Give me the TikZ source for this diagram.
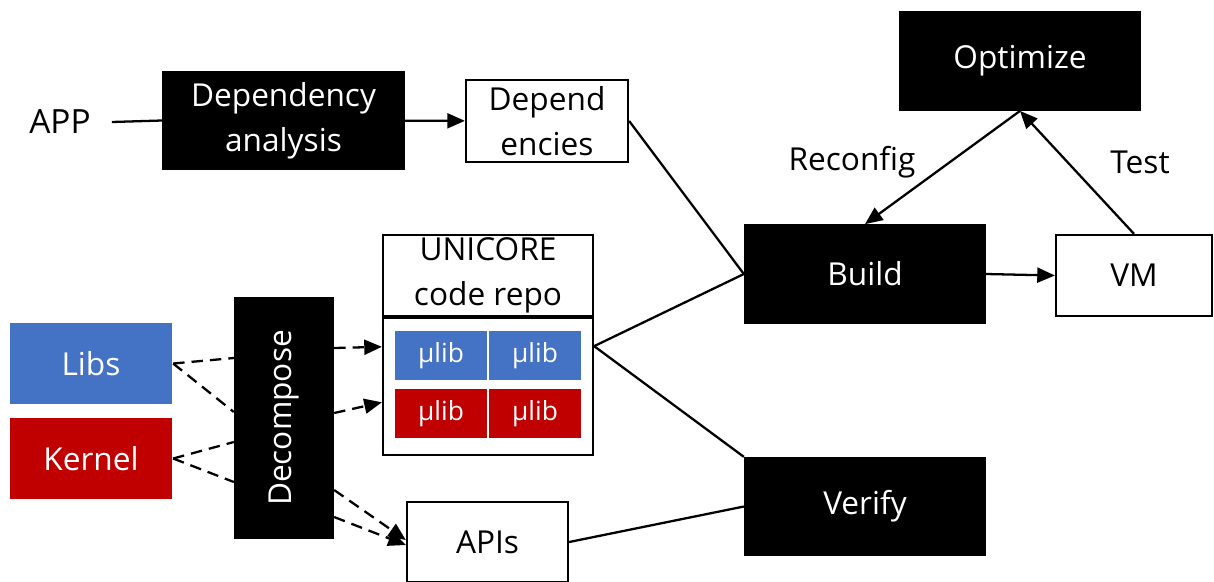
\documentclass[tikz,border=0pt]{standalone}
\usepackage{fontspec}
\setmainfont{Open Sans}
\usepackage{tikz}
\usetikzlibrary{positioning, arrows.meta}
\definecolor{libblue}{HTML}{4472C4}
\definecolor{kernred}{HTML}{C00000}

\begin{document}
\begin{tikzpicture}[
    % GLOBAL CFG
    font=\fontsize{18}{25.5}\selectfont,
    >={Triangle[length=10pt,width=8.5pt]},
    line width=1.3pt,
    % Styles
    stage/.style={% black processing boxes
        rectangle,
        draw,
        fill=black,
        text=white,
        align=center,
        minimum width=4.8cm,
        minimum height=1.95cm,
        },
    store/.style={% white boxes
        rectangle,
        draw,
        fill=white,
        align=center,
        inner sep=1pt,
        },
    src/.style={% coloured sources
        rectangle,
        text=white,
        minimum width=3.24cm,
        minimum height=1.62cm,
        },
    ulib/.style={% cells inside the repo
        rectangle,
        text=white,
        font=\fontsize{15}{18}\selectfont,
        minimum width=1.84cm,
        minimum height=0.98cm,
        },
    mylabel/.style={% edge labels
        inner sep=0pt
        },
    Dash/.style={% dashed connectors
        dash pattern=on 6.5pt off 4pt,
        },
    ]
    \useasboundingbox (0,0) rectangle (24.28,-11.62);

    % Draw the top row
    \node [inner sep=0.4cm, font=\fontsize{19}{24}\selectfont] (app) at (1.2,-2.44) {APP};
    \node [stage, minimum width=4.82cm, minimum height=1.94cm] (dep) at (5.67,-2.41) {Dependency\\analysis};
    \node [store, minimum width=3.24cm, minimum height=1.64cm] (deps) at (10.94,-2.42) {Depend\\encies};

    % Draw the build loop
    \node [stage] (opt) at (20.4,-1.22) {Optimize};
    \node [stage] (build) at (17.3,-5.48) {Build};
    \node [store, minimum width=3.12cm, minimum height=1.62cm] (vm) at (22.68,-5.51) {VM};
    \node [stage, minimum height=1.94cm] (verify) at (17.3,-10.13) {Verify};
    \node [mylabel] (reconfig) at (17.04,-3.24) {Reconfig};
    \node [mylabel] (test) at (22.8,-3.24) {Test};

    % Draw the sources and decomposition
    \node [src, fill=libblue] (libs) at (1.82,-7.27) {Libs};
    \node [src, fill=kernred] (kernel) at (1.82,-9.17) {Kernel};
    \node [stage, minimum width=1.96cm, minimum height=4.8cm] (decomp) at (5.68,-8.36) {\rotatebox{90}{Decompose}};

    % Draw the code repo named repo*
    \node [store, minimum width=4.2cm, minimum height=1.62cm] (repohead) at (9.76,-5.51) {UNICORE\\code repo};
    \node [store, minimum width=4.2cm, minimum height=2.74cm, anchor=north] (repobody) at (repohead.south) {};
    \node [ulib, fill=libblue] (ul1) at (8.82,-7.11) {µlib};
    \node [ulib, fill=libblue] (ul2) at (10.70,-7.11) {µlib};
    \node [ulib, fill=kernred] (ul3) at (8.82,-8.27) {µlib};
    \node [ulib, fill=kernred] (ul4) at (10.70,-8.27) {µlib};
    \node [store, minimum width=3.22cm, minimum height=1.6cm] (apis) at (9.75,-10.84) {APIs};
    \coordinate (fork) at ([yshift=-0.58cm]repobody.north east);

    % Start connecting all.
    \draw (app.east) -- (dep.west);
    \draw [->] (dep) -- (deps);
    \draw (deps.east) -- (build.west);
    \draw (fork) -- (build.west);
    \draw (fork) -- (verify.north west);
    \draw (apis.east) -- (verify.west);
    \draw [->] (build.east) -- (vm.west);
    \draw [->] (opt.south) -- (build.north);
    \draw [->] (vm.north) -- (opt.south);

    % Dashed inputs
    \draw [Dash] (libs.east) -- ([yshift=1.2cm]decomp.west);
    \draw [Dash] (libs.east) -- ([yshift=0.12cm]decomp.west);
    \draw [Dash] (kernel.east) -- ([yshift=-0.48cm]decomp.west);
    \draw [Dash] (kernel.east) -- ([yshift=-1.28cm]decomp.west);

    % Dashed outputs
    \draw [Dash, ->] ([yshift=1.4cm]decomp.east) -- ([yshift=0.8cm]repobody.west);
    \draw [Dash, ->] ([yshift=0.1cm]decomp.east) -- ([yshift=-0.31cm]repobody.west);
    \draw [Dash, ->] ([yshift=-1.44cm]decomp.east) -- ([yshift=0.04cm]apis.west);
    \draw [Dash, ->] ([yshift=-1.98cm]decomp.east) -- ([yshift=-0.06cm]apis.west);
\end{tikzpicture}
\end{document}
